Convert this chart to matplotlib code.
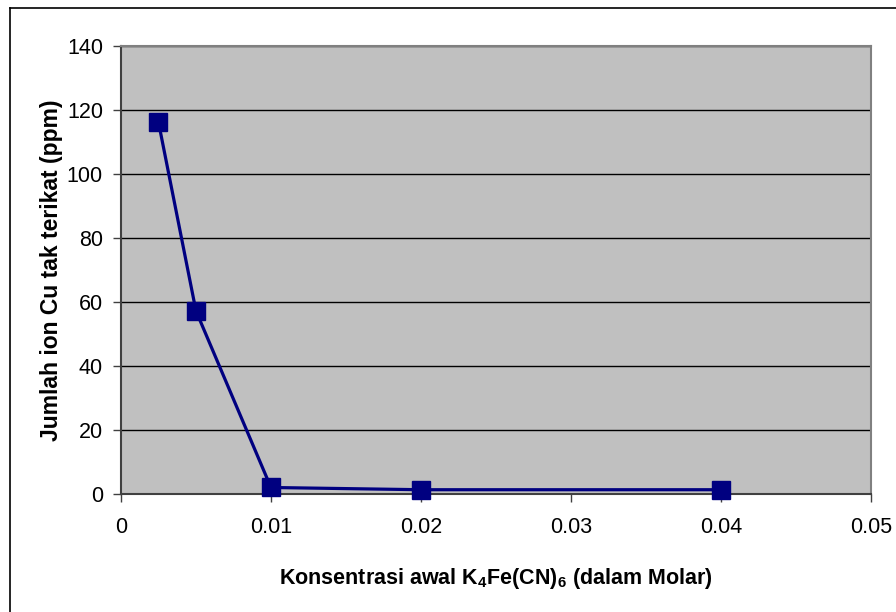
import matplotlib
matplotlib.use("Agg")
import matplotlib.pyplot as plt
from matplotlib.lines import Line2D

plt.rcParams['font.family'] = ['Liberation Sans', 'DejaVu Sans']
plt.rcParams['mathtext.fontset'] = 'custom'
plt.rcParams['mathtext.rm'] = 'Liberation Sans'
plt.rcParams['mathtext.bf'] = 'Liberation Sans:bold'

konsentrasi = [0.0025, 0.005, 0.01, 0.02, 0.04]
cu_tak_terikat = [116.2, 57.2, 2.0, 1.3, 1.3]
x_ticks = [0, 0.01, 0.02, 0.03, 0.04, 0.05]
x_tick_labels = ['0', '0.01', '0.02', '0.03', '0.04', '0.05']
y_ticks = [0, 20, 40, 60, 80, 100, 120, 140]

fig = plt.figure(figsize=(8.96, 6.12), dpi=100)
ax = fig.add_axes([0.135, 0.193, 0.837, 0.732])
ax.set_facecolor('#c0c0c0')

for y in y_ticks[1:]:
    ax.axhline(y, color='black', linewidth=1.0, zorder=1)

ax.plot(konsentrasi, cu_tak_terikat, color='#000080', linewidth=2.3,
        marker='s', markersize=13.5, markerfacecolor='#000080',
        markeredgecolor='#000080', zorder=3, clip_on=False)

ax.set_xlim(0, 0.05)
ax.set_ylim(0, 140)
ax.set_xticks(x_ticks)
ax.set_xticklabels(x_tick_labels)
ax.set_yticks(y_ticks)

for side in ['top', 'right']:
    ax.spines[side].set_color('#808080')
    ax.spines[side].set_linewidth(1.5)
for side in ['left', 'bottom']:
    ax.spines[side].set_color('#404040')
    ax.spines[side].set_linewidth(1.5)

ax.tick_params(axis='both', direction='out', length=6, width=1, color='#404040',
               labelsize=15.5, pad=7)
ax.tick_params(axis='x', pad=11)

ax.set_xlabel(r'Konsentrasi awal K$_\mathbf{4}$Fe(CN)$_\mathbf{6}$ (dalam Molar)',
              fontsize=15.5, fontweight='bold', labelpad=20)
ax.set_ylabel('Jumlah ion Cu tak terikat (ppm)', fontsize=16.5,
              fontweight='bold', labelpad=3)

# outer chart frame (left and top edges visible)
fig.add_artist(Line2D([9.5 / 896, 9.5 / 896], [0, 1 - 7.5 / 612],
                      transform=fig.transFigure, color='black', linewidth=1.2))
fig.add_artist(Line2D([9.5 / 896, 1], [1 - 7.5 / 612, 1 - 7.5 / 612],
                      transform=fig.transFigure, color='black', linewidth=1.2))

fig.savefig('out.png', dpi=100)
